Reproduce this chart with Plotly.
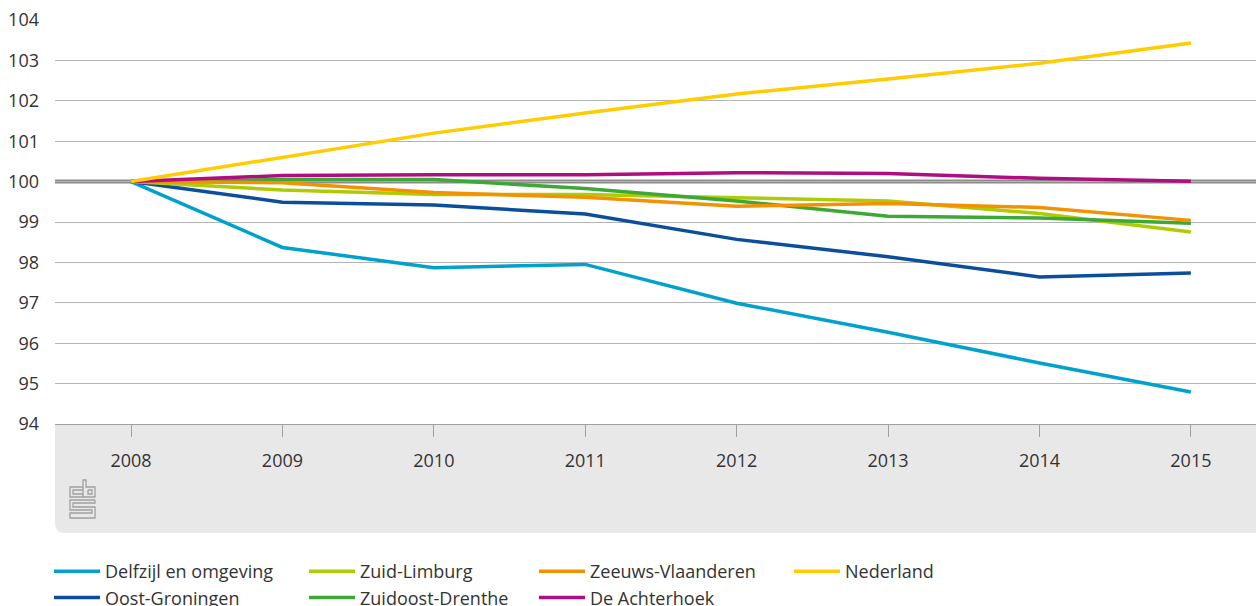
import plotly.graph_objects as go

years = [2008, 2009, 2010, 2011, 2012, 2013, 2014, 2015]

delfzijl = [100, 98.37, 97.87, 97.95, 96.99, 96.27, 95.51, 94.79]
oost_groningen = [100, 99.49, 99.42, 99.20, 98.57, 98.14, 97.64, 97.74]
zuid_limburg = [100, 99.79, 99.68, 99.68, 99.60, 99.52, 99.21, 98.75]
zuidoost_drenthe = [100, 100.05, 100.05, 99.83, 99.52, 99.14, 99.10, 98.97]
zeeuws_vlaanderen = [100, 99.97, 99.73, 99.61, 99.39, 99.46, 99.36, 99.04]
achterhoek = [100, 100.15, 100.17, 100.17, 100.22, 100.20, 100.08, 100.01]
nederland = [100, 100.60, 101.20, 101.70, 102.17, 102.54, 102.93, 103.43]

names = ["Delfzijl en omgeving", "Oost-Groningen", "Zuid-Limburg", "Zuidoost-Drenthe",
         "Zeeuws-Vlaanderen", "De Achterhoek", "Nederland"]
series = [delfzijl, oost_groningen, zuid_limburg, zuidoost_drenthe,
          zeeuws_vlaanderen, achterhoek, nederland]
colors = ["#00a1cd", "#0b4f9c", "#afcb05", "#3ca835",
          "#f39200", "#af0e80", "#ffcc00"]
legend_col = ["legend", "legend", "legend2", "legend2", "legend3", "legend3", "legend4"]

y_ticks = [94, 95, 96, 97, 98, 99, 100, 101, 102, 103, 104]

W, H = 1256, 606
L, T, B = 55, 20, 182
PW, PH = W - L, H - T - B

def px(x):
    return (x - L) / PW

def py(y):
    return (H - B - y) / PH

FONT = "Open Sans"
FS = 18

fig = go.Figure()
for name, vals, col, lg in zip(names, series, colors, legend_col):
    fig.add_trace(go.Scatter(x=years, y=vals, name=name, mode="lines", legend=lg,
                             line=dict(color=col, width=3.5)))

shapes = []
# grey axis band with rounded bottom-left corner
r = 10
bx0, bx1, by0, by1 = 55, 1256, 424, 533
shapes.append(dict(
    type="path", xref="paper", yref="paper", layer="below",
    path=(f"M {px(bx0)},{py(by0)} L {px(bx1)},{py(by0)} L {px(bx1)},{py(by1)} "
          f"L {px(bx0 + r)},{py(by1)} Q {px(bx0)},{py(by1)} {px(bx0)},{py(by1 - r)} Z"),
    fillcolor="#e8e8e8", line=dict(width=0)))
# reference line at 100
shapes.append(dict(type="line", xref="paper", yref="y", x0=0, x1=1, y0=100, y1=100,
                   layer="between", line=dict(color="#8c8c8c", width=4)))

# CBS logo (decorative)
def pth(pts):
    return "M " + " L ".join(f"{px(a)},{py(b)}" for a, b in pts)

logo_paths = [
    [(83, 487), (70, 487), (70, 497), (83, 497)],
    [(83, 490), (73, 490), (73, 494), (83, 494)],
    [(83, 497), (83, 480), (86, 480), (86, 487), (95, 487), (95, 497), (83, 497)],
    [(88, 490), (92, 490), (92, 494), (88, 494), (88, 490)],
    [(95, 500), (70, 500), (70, 510), (92, 510), (92, 513), (70, 513), (70, 518),
     (95, 518), (95, 507), (73, 507), (73, 503), (95, 503), (95, 500)],
]
for p in logo_paths:
    shapes.append(dict(type="path", xref="paper", yref="paper", layer="above",
                       path=pth(p), line=dict(color="#a0a0a0", width=1.3)))

def legend_at(line_x):
    return dict(orientation="v", x=px(line_x - 6), xanchor="left", y=py(553), yanchor="top",
                font=dict(family=FONT, size=FS, color="#333333"),
                itemwidth=46, bgcolor="rgba(0,0,0,0)")

fig.update_layout(
    width=W, height=H,
    margin=dict(l=L, r=0, t=T, b=B, autoexpand=False),
    paper_bgcolor="white", plot_bgcolor="rgba(0,0,0,0)",
    font=dict(family=FONT, size=FS, color="#333333"),
    showlegend=True,
    legend=legend_at(55),
    legend2=legend_at(310),
    legend3=legend_at(540),
    legend4=legend_at(795),
    xaxis=dict(range=[2007.498, 2015.43], tickvals=years,
               ticktext=[str(y) for y in years],
               ticks="outside", ticklen=12, tickcolor="#a0a0a0", tickwidth=1,
               showgrid=False, showline=True, linecolor="#a0a0a0", linewidth=1,
               zeroline=False, ticklabelstandoff=8, fixedrange=True),
    yaxis=dict(range=[94, 104], tickvals=y_ticks,
               ticktext=[str(v) for v in y_ticks],
               showgrid=True, gridcolor="#b4b4b4", gridwidth=1,
               zeroline=False, showline=False, ticks="",
               ticklabelstandoff=15, fixedrange=True),
    shapes=shapes,
)

fig.write_html("out.html", config={"displayModeBar": False},
               post_script="document.body.style.margin='0';document.body.style.overflow='hidden';")
